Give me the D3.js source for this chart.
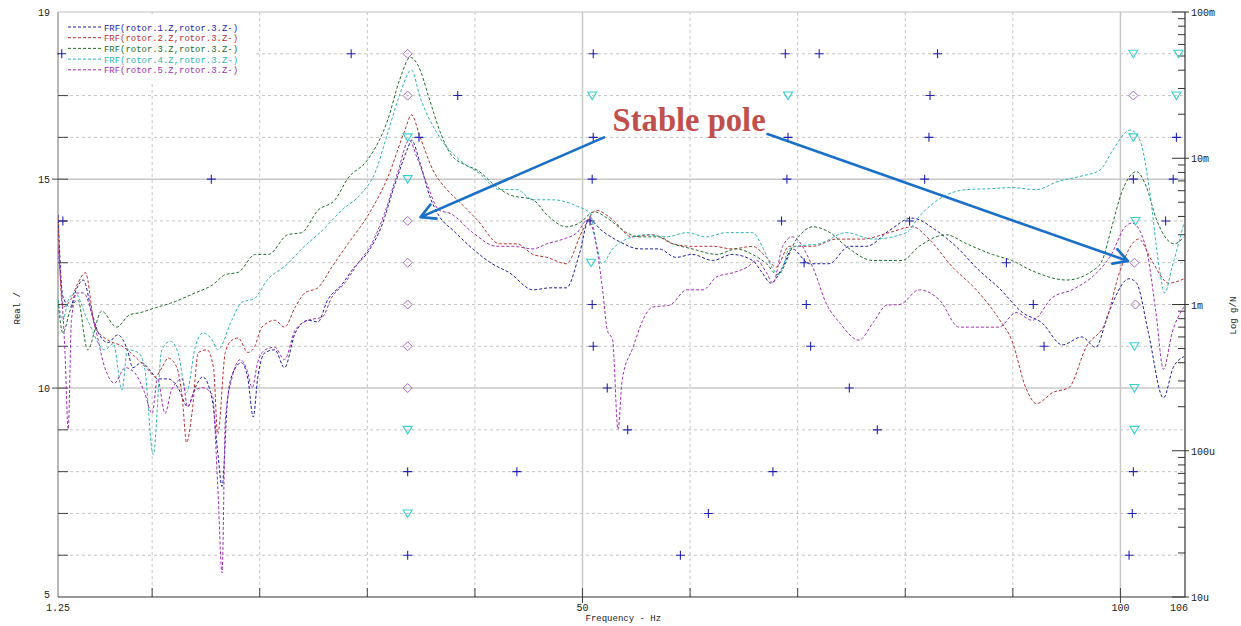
<!DOCTYPE html>
<html>
<head>
<meta charset="utf-8">
<script src="https://cdn.jsdelivr.net/npm/d3@7"></script>
<style>
  body { margin: 0; background: #fff; }
  text { font-family: "Liberation Mono", "DejaVu Sans Mono", monospace; }
</style>
</head>
<body>
<div id="chart"></div>
<script>
const svgWidth = 1241;
const svgHeight = 626;

const margin = { top: 12, right: 56, bottom: 29, left: 58 };
const width = svgWidth - margin.left - margin.right;
const height = svgHeight - margin.top - margin.bottom;

// FRF curves: [frequency Hz, magnitude g/N]
const frf1 = [[1.25,0.0041],[1.7,0.00114],[2.4,0.00096],[2.9,0.00124],[3.6,0.00147],[4.4,0.00088],[5.0,0.00064],[5.9,0.00055],[6.8,0.00062],[7.7,0.00049],[8.2,0.00037],[9.0,0.0004],[10.0,0.00034],[10.5,0.00031],[11.5,0.00031],[12.4,0.00027],[13.3,0.0002],[14.0,0.00027],[14.7,0.00032],[15.6,0.00022],[16.1,0.000097],[16.5,0.000057],[17.0,0.00022],[17.5,0.00034],[18.3,0.0004],[18.9,0.00031],[19.4,0.00017],[19.8,0.00031],[20.5,0.00047],[21.4,0.00049],[22.3,0.00037],[23.3,0.00064],[24.5,0.00078],[25.4,0.00076],[26.3,0.00107],[27.6,0.00136],[28.8,0.0018],[30.0,0.00225],[31.3,0.0034],[32.5,0.0064],[33.8,0.0119],[34.1,0.0133],[34.9,0.0093],[35.8,0.0055],[36.7,0.004],[38.0,0.0032],[39.8,0.0024],[41.6,0.0019],[43.2,0.00165],[45.4,0.00126],[47.0,0.0013],[48.5,0.0013],[49.7,0.0022],[50.6,0.0038],[51.8,0.0032],[53.4,0.0027],[55.3,0.0024],[57.1,0.0024],[58.7,0.0021],[60.2,0.0022],[62.1,0.002],[63.9,0.0022],[65.8,0.002],[66.7,0.00165],[67.5,0.0014],[68.6,0.0018],[69.5,0.0024],[71.1,0.0019],[72.9,0.0019],[74.8,0.0025],[76.4,0.0025],[78.5,0.0032],[80.6,0.0039],[82.9,0.0032],[84.7,0.0025],[86.9,0.0017],[88.7,0.0013],[90.9,0.00088],[92.7,0.00075],[94.6,0.00053],[96.4,0.0006],[97.7,0.00051],[98.9,0.00088],[100.8,0.0015],[101.5,0.0014],[102.6,0.00064],[104.0,0.00023],[104.9,0.00037],[105.9,0.00044]];

const frf2 = [[1.25,0.0039],[1.7,0.00096],[2.4,0.00107],[3.1,0.0014],[3.8,0.00165],[4.7,0.0007],[5.9,0.00057],[7.2,0.00052],[8.4,0.00044],[9.6,0.00036],[10.3,0.00032],[10.9,0.00037],[11.5,0.00043],[12.3,0.00037],[12.8,0.00023],[13.2,0.000114],[13.7,0.00018],[14.3,0.00047],[15.1,0.00049],[15.7,0.00037],[16.1,0.00013],[16.8,0.00047],[17.4,0.00057],[18.0,0.00059],[18.9,0.00047],[19.5,0.00051],[20.2,0.0007],[21.4,0.00078],[22.3,0.0007],[23.3,0.00096],[24.2,0.0012],[25.4,0.0013],[26.7,0.0018],[28.2,0.0026],[30.0,0.004],[31.9,0.0074],[33.5,0.0156],[34.1,0.0198],[34.9,0.014],[36.1,0.0083],[37.4,0.0061],[38.6,0.005],[40.2,0.0038],[42.3,0.0026],[43.9,0.0026],[45.4,0.0022],[46.7,0.0021],[48.5,0.0019],[50.0,0.0032],[51.3,0.0044],[52.8,0.0038],[54.6,0.0029],[56.5,0.003],[58.4,0.0026],[60.2,0.0025],[62.1,0.0025],[63.9,0.0024],[65.8,0.0025],[67.1,0.0021],[68.0,0.0018],[69.2,0.0025],[71.4,0.0025],[73.6,0.0028],[76.0,0.0028],[78.5,0.0031],[80.7,0.0034],[82.2,0.0028],[84.4,0.0018],[86.6,0.00126],[88.8,0.00078],[89.9,0.00057],[91.2,0.00027],[92.2,0.00021],[93.7,0.00025],[95.2,0.00027],[96.8,0.00051],[98.7,0.00078],[99.9,0.00165],[101.7,0.0028],[102.9,0.002],[104.5,0.0014],[105.9,0.0015]];

const frf3 = [[1.25,0.00107],[1.7,0.00064],[2.4,0.00092],[3.1,0.00107],[4.0,0.00049],[5.3,0.0009],[6.7,0.0007],[7.9,0.00085],[8.9,0.00088],[10.3,0.00095],[11.7,0.00102],[14.0,0.0012],[15.6,0.00136],[16.8,0.0016],[18.0,0.00166],[19.6,0.0022],[20.8,0.0022],[22.6,0.003],[23.9,0.0031],[25.4,0.0044],[27.0,0.0052],[28.2,0.0073],[30.0,0.0097],[31.9,0.0183],[33.0,0.0343],[34.0,0.049],[34.7,0.0434],[35.8,0.025],[36.7,0.0156],[37.7,0.0108],[39.1,0.009],[40.2,0.0083],[42.0,0.0064],[43.3,0.0056],[45.4,0.0052],[46.7,0.0041],[48.5,0.0034],[49.7,0.0036],[51.1,0.0043],[52.5,0.0038],[54.1,0.0031],[55.3,0.0029],[57.1,0.0029],[58.4,0.0026],[60.2,0.0024],[62.5,0.0022],[64.3,0.0024],[65.8,0.0022],[67.1,0.0019],[68.1,0.0016],[69.9,0.0028],[71.4,0.0034],[73.0,0.0031],[74.5,0.0025],[77.0,0.002],[79.7,0.002],[81.3,0.0025],[83.8,0.003],[85.7,0.0026],[88.1,0.0022],[89.9,0.002],[91.8,0.0017],[95.0,0.00147],[97.4,0.0017],[98.3,0.002],[99.2,0.0034],[100.1,0.0058],[101.5,0.0081],[102.4,0.0064],[103.3,0.0039],[104.3,0.0028],[105.0,0.0026],[105.9,0.0029]];

const frf4 = [[1.25,0.00107],[1.7,0.00078],[2.2,0.00107],[2.8,0.0012],[4.0,0.00078],[5.6,0.00049],[6.4,0.00054],[7.2,0.00026],[7.7,0.00049],[8.7,0.00047],[9.3,0.00037],[10.1,0.000094],[10.9,0.00049],[11.7,0.00056],[12.4,0.00047],[13.2,0.00025],[14.0,0.00051],[14.7,0.00064],[15.6,0.00057],[16.1,0.00049],[17.4,0.00078],[18.3,0.00103],[19.5,0.0011],[20.7,0.00147],[22.6,0.0019],[23.9,0.0024],[25.8,0.0032],[27.6,0.0044],[29.5,0.0058],[30.7,0.0079],[31.9,0.0149],[33.0,0.0271],[34.1,0.0401],[34.9,0.0262],[36.7,0.014],[38.6,0.0097],[40.4,0.0079],[42.3,0.0061],[43.9,0.0061],[45.4,0.0052],[47.2,0.0052],[49.5,0.0047],[50.7,0.0042],[51.3,0.0026],[51.8,0.0019],[52.8,0.0024],[54.1,0.0028],[55.9,0.003],[57.8,0.0029],[59.7,0.0031],[61.5,0.0029],[63.4,0.0031],[65.8,0.0031],[66.7,0.0025],[67.6,0.0018],[68.3,0.0016],[69.2,0.0024],[69.9,0.0025],[72.0,0.0026],[74.5,0.0031],[77.0,0.0028],[80.1,0.0031],[81.3,0.004],[83.8,0.0056],[85.7,0.0061],[88.1,0.0062],[89.9,0.0063],[92.2,0.0061],[94.1,0.0069],[96.2,0.0075],[98.1,0.0083],[99.3,0.0114],[100.9,0.0156],[101.8,0.0133],[102.7,0.0061],[103.6,0.0018],[104.1,0.0012],[104.8,0.0018],[105.9,0.0036]];

const frf5 = [[1.25,0.0025],[1.9,0.00047],[2.2,0.00014],[2.5,0.00078],[3.0,0.0012],[3.6,0.0012],[4.7,0.0007],[5.6,0.00037],[6.5,0.00029],[7.5,0.00037],[8.4,0.00034],[9.3,0.00025],[10.0,0.00018],[10.5,0.00031],[11.2,0.00018],[11.8,0.00026],[12.8,0.00031],[13.3,0.0002],[14.0,0.00026],[14.7,0.00027],[15.6,0.00024],[16.1,0.000057],[16.5,0.0000146],[16.8,0.00016],[17.4,0.00031],[18.2,0.00042],[18.8,0.00036],[19.3,0.00027],[19.8,0.0004],[20.5,0.00049],[21.4,0.00051],[22.3,0.00042],[23.3,0.00067],[24.5,0.00078],[25.8,0.00082],[26.7,0.00112],[27.9,0.0014],[29.1,0.0019],[30.4,0.0026],[31.6,0.0042],[32.8,0.0079],[33.9,0.0133],[34.6,0.0102],[35.5,0.0068],[36.7,0.0044],[37.7,0.0042],[39.8,0.0031],[42.0,0.0025],[43.5,0.0025],[45.4,0.0024],[46.7,0.0026],[48.2,0.0028],[49.5,0.0031],[50.5,0.0038],[51.3,0.0025],[51.9,0.0012],[52.3,0.00067],[52.8,0.00057],[53.3,0.00014],[53.7,0.00031],[54.7,0.00051],[55.6,0.00078],[56.5,0.00096],[58.1,0.00099],[59.7,0.00126],[61.2,0.00126],[62.5,0.00155],[64.0,0.00165],[65.3,0.0018],[66.2,0.002],[67.1,0.00165],[67.7,0.0014],[68.6,0.0025],[69.5,0.0029],[71.4,0.0018],[72.7,0.001],[73.9,0.00075],[75.7,0.00057],[77.0,0.00075],[78.3,0.00099],[79.5,0.001],[81.3,0.00126],[83.2,0.00107],[85.0,0.0007],[86.9,0.0007],[88.7,0.0007],[90.3,0.00088],[91.8,0.00078],[93.7,0.00112],[95.5,0.00126],[97.8,0.00165],[99.0,0.0021],[100.6,0.0035],[101.1,0.0036],[102.4,0.0024],[103.3,0.00088],[104.0,0.00036],[104.8,0.00064],[105.9,0.00096]];

const seriesNames = ["FRF(rotor.1.Z,rotor.3.Z-)", "FRF(rotor.2.Z,rotor.3.Z-)", "FRF(rotor.3.Z,rotor.3.Z-)", "FRF(rotor.4.Z,rotor.3.Z-)", "FRF(rotor.5.Z,rotor.3.Z-)"];
const seriesColors = ["#1c1ca0", "#b83232", "#1f6e2a", "#2fb4b4", "#a02eb4"];
const seriesData = [frf1, frf2, frf3, frf4, frf5];

// stabilization poles: [frequency Hz, model order]
const plusPoles = [[1.6,18],[28.5,18],[51.0,18],[68.85,18],[72.0,18],[83.0,18],
  [38.4,17],[82.3,17],
  [34.8,16],[51.0,16],[69.1,16],[82.2,16],[105.2,16],
  [15.5,15],[50.9,15],[69.0,15],[81.8,15],[101.2,15],[104.9,15],
  [1.7,14],[50.7,14],[68.5,14],[80.4,14],[104.2,14],
  [70.6,13],[89.4,13],
  [50.9,12],[70.8,12],[91.9,12],
  [51.0,11],[71.2,11],[92.9,11],
  [52.3,10],[74.8,10],
  [54.2,9],[77.4,9],
  [33.75,8],[43.9,8],[67.7,8],[101.2,8],
  [61.7,7],[101.1,7],
  [33.75,6],[59.1,6],[100.8,6]];
const diamondPoles = [[33.75,18],[33.75,17],[101.2,17],[33.75,14],[33.75,13],[101.3,13],
  [33.75,12],[101.4,12],[33.75,11],[33.75,10]];
const trianglePoles = [[101.2,18],[105.4,18],[50.9,17],[69.1,17],[105.2,17],
  [33.75,16],[101.2,16],[33.75,15],[101.4,14],[50.8,13],[101.3,11],[101.3,10],
  [33.75,9],[101.3,9],[33.75,7]];

const orderRows = d3.range(6, 19);
const freqGrid = d3.range(10, 101, 10);
const freqLabels = [1.25, 50, 100, 106];
const realLabels = [5, 10, 15, 19];
const logLabels = { 1e-1: "100m", 1e-2: "10m", 1e-3: "1m", 1e-4: "100u", 1e-5: "10u" };

// annotation: text anchor and two arrows, in [Hz, order]
const noteText = "Stable pole";
const notePos = [52.8, 16.15];
const noteArrows = [[[52.0, 16.0], [34.95, 14.09]], [[67.2, 16.08], [100.7, 13.04]]];

const svg = d3.select("#chart")
  .append("svg")
  .attr("width", svgWidth)
  .attr("height", svgHeight);

const chartGroup = svg.append("g")
  .attr("transform", `translate(${margin.left}, ${margin.top})`);

const x = d3.scaleLinear().domain([1.25, 106]).range([0, width]);
const yReal = d3.scaleLinear().domain([5, 19]).range([height, 0]);
const yLog = d3.scaleLog().domain([1e-5, 1e-1]).range([height, 0]);

// grid
chartGroup.selectAll(".hgrid")
  .data(orderRows)
  .enter()
  .append("line")
  .attr("x1", 0).attr("x2", width)
  .attr("y1", d => yReal(d)).attr("y2", d => yReal(d))
  .attr("stroke", d => (d % 5 === 0) ? "#c8c8c8" : "#c4c4c4")
  .attr("stroke-width", d => (d % 5 === 0) ? 1.5 : 1)
  .attr("stroke-dasharray", d => (d % 5 === 0) ? null : "3,3");

chartGroup.selectAll(".vgrid")
  .data(freqGrid)
  .enter()
  .append("line")
  .attr("x1", d => x(d)).attr("x2", d => x(d))
  .attr("y1", 0).attr("y2", height)
  .attr("stroke", d => (d % 50 === 0) ? "#c8c8c8" : "#c4c4c4")
  .attr("stroke-width", d => (d % 50 === 0) ? 1.5 : 1)
  .attr("stroke-dasharray", d => (d % 50 === 0) ? null : "3,3");

// frame lines
chartGroup.append("line")
  .attr("x1", 0).attr("x2", width).attr("y1", 0).attr("y2", 0)
  .attr("stroke", "#c0c0c0");
chartGroup.append("line")
  .attr("x1", 0).attr("x2", 0).attr("y1", 0).attr("y2", height)
  .attr("stroke", "#a0a0a0").attr("stroke-width", 1.5);

// bottom ticks
chartGroup.selectAll(".xtick")
  .data(freqGrid)
  .enter()
  .append("line")
  .attr("x1", d => x(d)).attr("x2", d => x(d))
  .attr("y1", height - 9)
  .attr("y2", d => (d % 50 === 0) ? height + 6 : height)
  .attr("stroke", "#444");
chartGroup.append("line")
  .attr("x1", 0).attr("x2", width).attr("y1", height).attr("y2", height)
  .attr("stroke", "#333").attr("stroke-width", 1.2);

// left ticks
chartGroup.selectAll(".ltick")
  .data(orderRows)
  .enter()
  .append("line")
  .attr("x1", d => (d % 5 === 0) ? -6 : 0).attr("x2", 10)
  .attr("y1", d => yReal(d)).attr("y2", d => yReal(d))
  .attr("stroke", "#444");

// right log axis
const logTicks = yLog.ticks();
chartGroup.append("line")
  .attr("x1", width).attr("x2", width).attr("y1", 0).attr("y2", height)
  .attr("stroke", "#333").attr("stroke-width", 1.2);
chartGroup.selectAll(".rtick")
  .data(logTicks)
  .enter()
  .append("line")
  .attr("x1", d => logLabels[d] ? width - 13 : width - 7)
  .attr("x2", d => logLabels[d] ? width + 4 : width)
  .attr("y1", d => yLog(d)).attr("y2", d => yLog(d))
  .attr("stroke", "#333");

chartGroup.selectAll(".rlabel")
  .data(Object.keys(logLabels).map(Number))
  .enter()
  .append("text")
  .attr("x", width + 6)
  .attr("y", d => yLog(d) + 4)
  .style("font-size", "10px")
  .style("fill", "#222")
  .text(d => logLabels[d]);

chartGroup.selectAll(".llabel")
  .data(realLabels)
  .enter()
  .append("text")
  .attr("x", -8)
  .attr("y", d => yReal(d) + (d === 5 ? 1 : 4))
  .attr("text-anchor", "end")
  .style("font-size", "10px")
  .style("fill", "#222")
  .text(d => d);

chartGroup.selectAll(".blabel")
  .data(freqLabels)
  .enter()
  .append("text")
  .attr("x", d => x(d) + (d === 106 ? -6 : 0))
  .attr("y", height + 14)
  .attr("text-anchor", "middle")
  .style("font-size", "10px")
  .style("fill", "#222")
  .text(d => d);

// axis titles
chartGroup.append("text")
  .attr("x", x(50) + 3)
  .attr("y", height + 24)
  .style("font-size", "9px")
  .style("fill", "#222")
  .text("Frequency - Hz");

chartGroup.append("text")
  .attr("transform", `translate(${-38}, ${height / 2 + 20}) rotate(-90)`)
  .style("font-size", "9px")
  .style("fill", "#222")
  .text("Real /");

chartGroup.append("text")
  .attr("transform", `translate(${width + 51}, ${height / 2 + 30}) rotate(-90)`)
  .style("font-size", "9px")
  .style("fill", "#222")
  .text("Log g/N");

// curves
chartGroup.append("clipPath")
  .attr("id", "plotClip")
  .append("rect")
  .attr("width", width).attr("height", height);

const line = d3.line()
  .x(d => x(d[0]))
  .y(d => yLog(d[1]))
  .curve(d3.curveMonotoneX);

chartGroup.append("g")
  .attr("clip-path", "url(#plotClip)")
  .selectAll("path")
  .data(seriesData)
  .enter()
  .append("path")
  .attr("d", d => line(d))
  .attr("fill", "none")
  .attr("stroke", (d, i) => seriesColors[i])
  .attr("stroke-width", 1)
  .attr("stroke-dasharray", "3,2");

// legend (under the pole markers)
const legend = chartGroup.append("g");
legend.append("rect")
  .attr("x", 1).attr("y", 2)
  .attr("width", 196).attr("height", 68)
  .attr("fill", "#fff");

legend.selectAll(".legline")
  .data(seriesNames)
  .enter()
  .append("line")
  .attr("x1", 10).attr("x2", 43)
  .attr("y1", (d, i) => 15 + i * 10.7).attr("y2", (d, i) => 15 + i * 10.7)
  .attr("stroke", (d, i) => seriesColors[i])
  .attr("stroke-dasharray", "3,2");

legend.selectAll(".legtext")
  .data(seriesNames)
  .enter()
  .append("text")
  .attr("x", 46)
  .attr("y", (d, i) => 18.5 + i * 10.7)
  .attr("textLength", 134)
  .attr("lengthAdjust", "spacingAndGlyphs")
  .style("font-size", "9.5px")
  .style("fill", (d, i) => seriesColors[i])
  .text(d => d);

// pole markers
chartGroup.selectAll(".plus")
  .data(plusPoles)
  .enter()
  .append("path")
  .attr("transform", d => `translate(${x(d[0])}, ${yReal(d[1])})`)
  .attr("d", "M-4.5,0H4.5M0,-4.5V4.5")
  .attr("stroke", "#2222b0")
  .attr("stroke-width", 1.1);

chartGroup.selectAll(".diamond")
  .data(diamondPoles)
  .enter()
  .append("path")
  .attr("transform", d => `translate(${x(d[0])}, ${yReal(d[1])})`)
  .attr("d", "M0,-4.5L4.5,0L0,4.5L-4.5,0Z")
  .attr("fill", "none")
  .attr("stroke", "#a868c0")
  .attr("stroke-width", 1);

chartGroup.selectAll(".triangle")
  .data(trianglePoles)
  .enter()
  .append("path")
  .attr("transform", d => `translate(${x(d[0])}, ${yReal(d[1])})`)
  .attr("d", "M-4.5,-3.5L4.5,-3.5L0,4Z")
  .attr("fill", "none")
  .attr("stroke", "#38d0d0")
  .attr("stroke-width", 1.1);

// annotation
chartGroup.append("text")
  .attr("x", x(notePos[0]))
  .attr("y", yReal(notePos[1]))
  .attr("textLength", 153)
  .attr("lengthAdjust", "spacingAndGlyphs")
  .style("font-family", "'Liberation Serif', serif")
  .style("font-weight", "bold")
  .style("font-size", "33px")
  .style("fill", "#c0504d")
  .text(noteText);

noteArrows.forEach(function(a) {
  const x0 = x(a[0][0]), y0 = yReal(a[0][1]);
  const x1 = x(a[1][0]), y1 = yReal(a[1][1]);
  const ang = Math.atan2(y1 - y0, x1 - x0);
  const len = 16, spread = 0.5;
  const hx1 = x1 - len * Math.cos(ang - spread), hy1 = y1 - len * Math.sin(ang - spread);
  const hx2 = x1 - len * Math.cos(ang + spread), hy2 = y1 - len * Math.sin(ang + spread);
  chartGroup.append("path")
    .attr("d", `M${x0},${y0}L${x1},${y1}M${hx1},${hy1}L${x1},${y1}L${hx2},${hy2}`)
    .attr("fill", "none")
    .attr("stroke", "#1a6fc6")
    .attr("stroke-width", 2.6)
    .attr("stroke-linecap", "round")
    .attr("stroke-linejoin", "round");
});
</script>
</body>
</html>
